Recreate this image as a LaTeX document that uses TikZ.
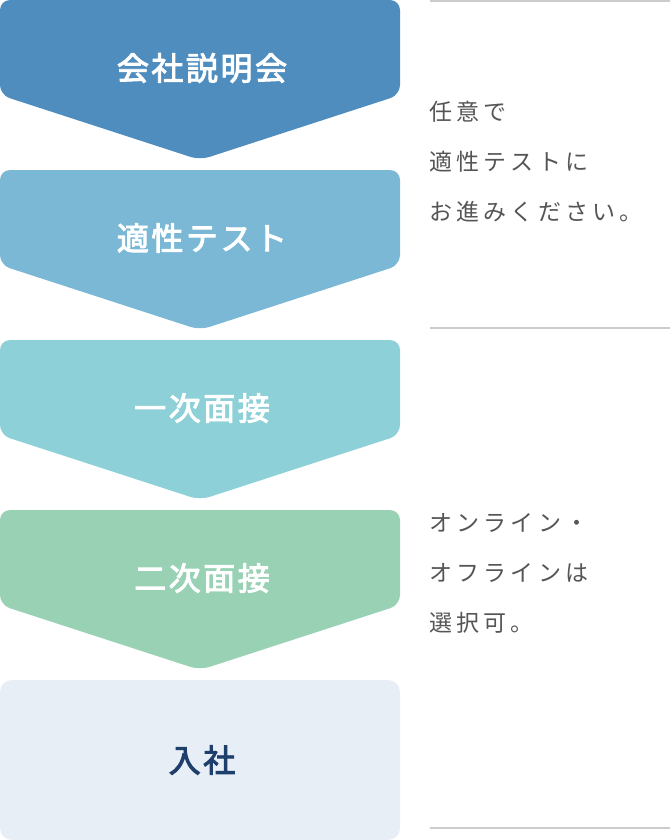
\documentclass[tikz,border=0pt]{standalone}
\usepackage{fontspec}
\newfontfamily\jpfont{Noto Sans CJK JP}[LetterSpace=18]
\newfontfamily\jpbold{Noto Sans CJK JP}[FakeBold=3,LetterSpace=8]
\definecolor{stepA}{HTML}{4F8DBF}
\definecolor{stepB}{HTML}{7AB8D6}
\definecolor{stepC}{HTML}{8ED0D8}
\definecolor{stepD}{HTML}{99D1B5}
\definecolor{stepE}{HTML}{E8EEF5}
\definecolor{navy}{HTML}{1E3F6B}
\definecolor{note}{HTML}{555555}
\definecolor{rule}{HTML}{CCCCCC}
\tikzset{
  chevron/.style={rounded corners=10pt},
  steplabel/.style={font=\jpbold\fontsize{32}{36}\selectfont, text=white},
  notetext/.style={font=\jpfont\fontsize{23}{50}\selectfont, text=note, anchor=north west, align=left},
}
\begin{document}
\begin{tikzpicture}[x=1pt,y=-1pt]
\useasboundingbox (0,0) rectangle (670,840);

% chevron steps
\fill[stepA,chevron] (0,0) -- (400,0) -- (400,95) -- (200,160) -- (0,95) -- cycle;
\fill[stepB,chevron] (0,170) -- (400,170) -- (400,265) -- (200,330) -- (0,265) -- cycle;
\fill[stepC,chevron] (0,340) -- (400,340) -- (400,435) -- (200,500) -- (0,435) -- cycle;
\fill[stepD,chevron] (0,510) -- (400,510) -- (400,605) -- (200,670) -- (0,605) -- cycle;
\fill[stepE,rounded corners=12pt] (0,680) rectangle (400,840);

% step labels
\node[steplabel] (setsumei) at (202,68) {会社説明会};
\node[steplabel] (tekisei) at (202,238) {適性テスト};
\node[steplabel] (ichiji) at (202,408) {一次面接};
\node[steplabel] (niji) at (202,578) {二次面接};
\node[steplabel, text=navy] (nyusha) at (202,760) {入社};

% rules
\draw[rule, line width=1.2pt] (430,1) -- (670,1);
\draw[rule, line width=1.2pt] (430,328) -- (670,328);
\draw[rule, line width=1.2pt] (430,828) -- (670,828);

% notes
\node[notetext] (noteA) at (426,98) {任意で\\適性テストに\\お進みください。};
\node[notetext] (noteB) at (426,510) {オンライン・\\オフラインは\\選択可。};
\end{tikzpicture}
\end{document}
